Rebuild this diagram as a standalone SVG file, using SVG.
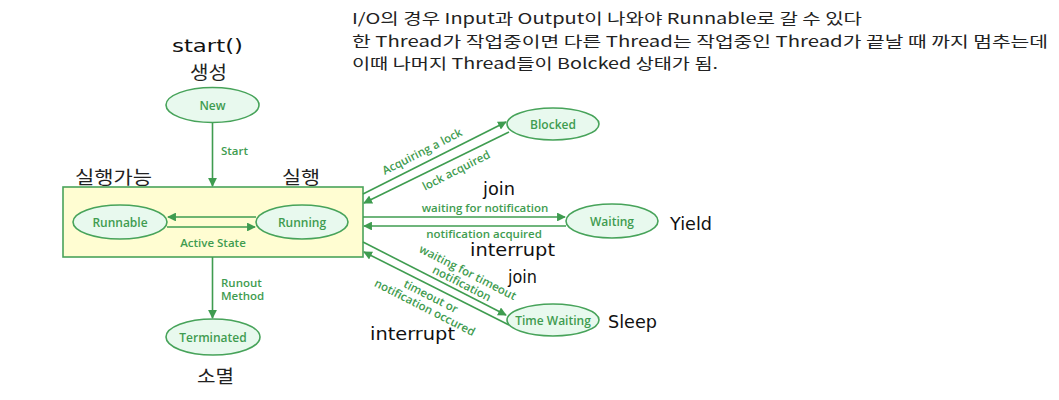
<svg xmlns="http://www.w3.org/2000/svg" width="1059" height="400" viewBox="0 0 1059 400">
<defs>
<style>
.node{fill:#e8f9ee;stroke:#47a35a;stroke-width:1.6}
.lbl{font-family:"Open Sans","Liberation Sans",sans-serif;font-size:11.5px;font-weight:600;fill:#3f9c50;text-anchor:middle}
.nlbl{font-family:"Open Sans","Liberation Sans",sans-serif;font-size:12px;font-weight:600;fill:#3f9c50;text-anchor:middle;dominant-baseline:central}
.edge{stroke:#3f9c50;stroke-width:1.6;fill:none;marker-end:url(#ah)}
.hand{font-family:"DejaVu Sans","Liberation Sans",sans-serif;font-size:18px;fill:#111}
.kr{font-family:"Noto Sans CJK KR","Noto Sans",sans-serif;font-size:18px;fill:#222}
.note{font-family:"Noto Sans CJK KR","Noto Sans",sans-serif;font-size:15px;fill:#222}
</style>
<marker id="ah" viewBox="0 0 10 10" refX="9" refY="5" markerWidth="5.5" markerHeight="5.5" orient="auto" markerUnits="strokeWidth">
<path d="M0,0 L10,5 L0,10 Z" fill="#3f9c50"/>
</marker>
</defs>
<rect width="1059" height="400" fill="#ffffff"/>

<g id="notes">
<text class="note" x="352" y="24" textLength="510" lengthAdjust="spacingAndGlyphs">I/O의 경우 Input과 Output이 나와야 Runnable로 갈 수 있다</text>
<text class="note" x="352" y="47" textLength="696" lengthAdjust="spacingAndGlyphs">한 Thread가 작업중이면 다른 Thread는 작업중인 Thread가 끝날 때 까지 멈추는데</text>
<text class="note" x="352" y="69" textLength="366" lengthAdjust="spacingAndGlyphs">이때 나머지 Thread들이 Bolcked 상태가 됨.</text>
</g>

<g id="active-state">
<rect x="63" y="187" width="300" height="70" fill="#fffdd2" stroke="#4aa35a" stroke-width="1.6"/>
<text class="lbl" x="213" y="247">Active State</text>
<text class="kr" x="75" y="184" textLength="77" lengthAdjust="spacingAndGlyphs">실행가능</text>
<text class="kr" x="282" y="184" textLength="38" lengthAdjust="spacingAndGlyphs">실행</text>
</g>

<g id="connectors">
<line class="edge" x1="212.5" y1="123" x2="212.5" y2="186"/>
<text class="lbl" x="221" y="155" style="text-anchor:start">Start</text>
<line class="edge" x1="256" y1="217" x2="168" y2="217"/>
<line class="edge" x1="167" y1="227" x2="255" y2="227"/>
<line class="edge" x1="212.5" y1="257" x2="212.5" y2="318"/>
<text class="lbl" x="221" y="287" style="text-anchor:start">Runout</text>
<text class="lbl" x="221" y="300" style="text-anchor:start">Method</text>
<line class="edge" x1="363" y1="194" x2="506" y2="122"/>
<line class="edge" x1="509" y1="132" x2="364" y2="203"/>
<text class="lbl" transform="translate(424,155) rotate(-27)">Acquiring a lock</text>
<text class="lbl" transform="translate(458,174) rotate(-27)">lock acquired</text>
<line class="edge" x1="363" y1="217" x2="565" y2="217"/>
<line class="edge" x1="566" y1="226" x2="364" y2="226"/>
<text class="lbl" x="485" y="212">waiting for notification</text>
<text class="lbl" x="484" y="238">notification acquired</text>
<line class="edge" x1="363" y1="242" x2="506" y2="315"/>
<line class="edge" x1="509" y1="325" x2="364" y2="252"/>
<text class="lbl" transform="translate(466,276) rotate(27)">waiting for timeout</text>
<text class="lbl" transform="translate(460,287) rotate(27)">notification</text>
<text class="lbl" transform="translate(429,300) rotate(27)">timeout or</text>
<text class="lbl" transform="translate(423,311) rotate(27)">notification occured</text>
</g>

<g id="node-new">
<ellipse class="node" cx="212.5" cy="105" rx="46.5" ry="17.5"/>
<text class="nlbl" x="212.5" y="105">New</text>
<text class="hand" x="172" y="52" textLength="71" lengthAdjust="spacingAndGlyphs">start()</text>
<text class="kr" x="190" y="79" textLength="37" lengthAdjust="spacingAndGlyphs">생성</text>
</g>

<g id="node-runnable">
<ellipse class="node" cx="120" cy="222" rx="47" ry="17"/>
<text class="nlbl" x="120" y="222">Runnable</text>
</g>

<g id="node-running">
<ellipse class="node" cx="302" cy="222" rx="46" ry="17"/>
<text class="nlbl" x="302" y="222">Running</text>
</g>

<g id="node-terminated">
<ellipse class="node" cx="213" cy="337" rx="47" ry="18"/>
<text class="nlbl" x="213" y="337">Terminated</text>
<text class="kr" x="197" y="383" textLength="37" lengthAdjust="spacingAndGlyphs">소멸</text>
</g>

<g id="node-blocked">
<ellipse class="node" cx="553" cy="124" rx="46" ry="16"/>
<text class="nlbl" x="553" y="124">Blocked</text>
</g>

<g id="node-waiting">
<ellipse class="node" cx="612" cy="221" rx="46" ry="17"/>
<text class="nlbl" x="612" y="221">Waiting</text>
<text class="hand" x="670" y="230" textLength="42" lengthAdjust="spacingAndGlyphs">Yield</text>
<text class="hand" x="483" y="195" textLength="32" lengthAdjust="spacingAndGlyphs">join</text>
<text class="hand" x="470" y="256" textLength="85" lengthAdjust="spacingAndGlyphs">interrupt</text>
</g>

<g id="node-time-waiting">
<ellipse class="node" cx="553" cy="320" rx="46" ry="16"/>
<text class="nlbl" x="553" y="320">Time Waiting</text>
<text class="hand" x="608" y="328" textLength="49" lengthAdjust="spacingAndGlyphs">Sleep</text>
<text class="hand" x="508" y="283" textLength="29" lengthAdjust="spacingAndGlyphs">join</text>
<text class="hand" x="370" y="340" textLength="85" lengthAdjust="spacingAndGlyphs">interrupt</text>
</g>
</svg>
